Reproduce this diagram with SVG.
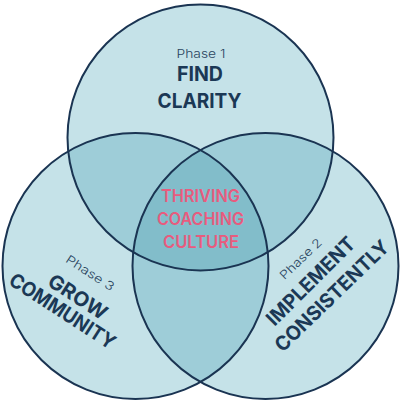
<svg xmlns="http://www.w3.org/2000/svg" width="400" height="400" viewBox="0 0 400 400">
  <style>
    .base { fill: #c5e2e8; }
    .two { fill: #9ecdd8; }
    .three { fill: #82bdca; }
    .ring { fill: none; stroke: #1a3452; stroke-width: 2; }
    .phase { font-family: Inter, "Open Sans", "Liberation Sans", sans-serif; font-weight: 300; font-size: 12px; fill: #2a4560; text-anchor: middle; }
    .title { font-family: Inter, "Open Sans", "Liberation Sans", sans-serif; font-weight: 700; font-size: 20px; fill: #1b3855; text-anchor: middle; }
    .core { font-family: Inter, "Open Sans", "Liberation Sans", sans-serif; font-weight: 600; font-size: 17px; fill: #e85b7e; text-anchor: middle; }
  </style>
  <defs>
    <circle id="cT" cx="200.5" cy="137.5" r="133"/>
    <circle id="cL" cx="135.5" cy="266" r="133"/>
    <circle id="cR" cx="265.5" cy="266" r="133"/>
    <clipPath id="clipT"><use href="#cT"/></clipPath>
    <clipPath id="clipL"><use href="#cL"/></clipPath>
    <clipPath id="clipR"><use href="#cR"/></clipPath>
  </defs>

  <g id="fills">
    <use href="#cT" class="base"/>
    <use href="#cL" class="base"/>
    <use href="#cR" class="base"/>
    <g clip-path="url(#clipT)">
      <use href="#cL" class="two"/>
      <use href="#cR" class="two"/>
    </g>
    <g clip-path="url(#clipL)">
      <use href="#cR" class="two"/>
    </g>
    <g clip-path="url(#clipT)">
      <g clip-path="url(#clipL)">
        <use href="#cR" class="three"/>
      </g>
    </g>
  </g>

  <g id="phase1">
    <use href="#cT" class="ring"/>
    <text class="phase" x="201" y="57.7" textLength="49" lengthAdjust="spacingAndGlyphs">Phase 1</text>
    <text class="title" x="200" y="80.7" textLength="46" lengthAdjust="spacingAndGlyphs">FIND</text>
    <text class="title" x="199.5" y="108.3" font-size="21" textLength="84" lengthAdjust="spacingAndGlyphs">CLARITY</text>
  </g>

  <g id="phase3">
    <use href="#cL" class="ring"/>
    <text class="phase" transform="translate(87.8,276.4) rotate(33)" textLength="55" lengthAdjust="spacingAndGlyphs">Phase 3</text>
    <text class="title" transform="translate(74,302.6) rotate(33)" textLength="66" lengthAdjust="spacingAndGlyphs">GROW</text>
    <text class="title" transform="translate(58.7,316.9) rotate(33)" textLength="122" lengthAdjust="spacingAndGlyphs">COMMUNITY</text>
  </g>

  <g id="phase2">
    <use href="#cR" class="ring"/>
    <text class="phase" transform="translate(303.6,261.8) rotate(-44)" textLength="53" lengthAdjust="spacingAndGlyphs">Phase 2</text>
    <text class="title" transform="translate(315.6,286.1) rotate(-45)" textLength="116" lengthAdjust="spacingAndGlyphs">IMPLEMENT</text>
    <text class="title" transform="translate(336.6,300.8) rotate(-44)" textLength="150" lengthAdjust="spacingAndGlyphs">CONSISTENTLY</text>
  </g>

  <g id="center">
    <text class="core" x="200.5" y="202" textLength="79" lengthAdjust="spacingAndGlyphs">THRIVING</text>
    <text class="core" x="200.5" y="225" textLength="87" lengthAdjust="spacingAndGlyphs">COACHING</text>
    <text class="core" x="201" y="248" textLength="76" lengthAdjust="spacingAndGlyphs">CULTURE</text>
  </g>
</svg>
